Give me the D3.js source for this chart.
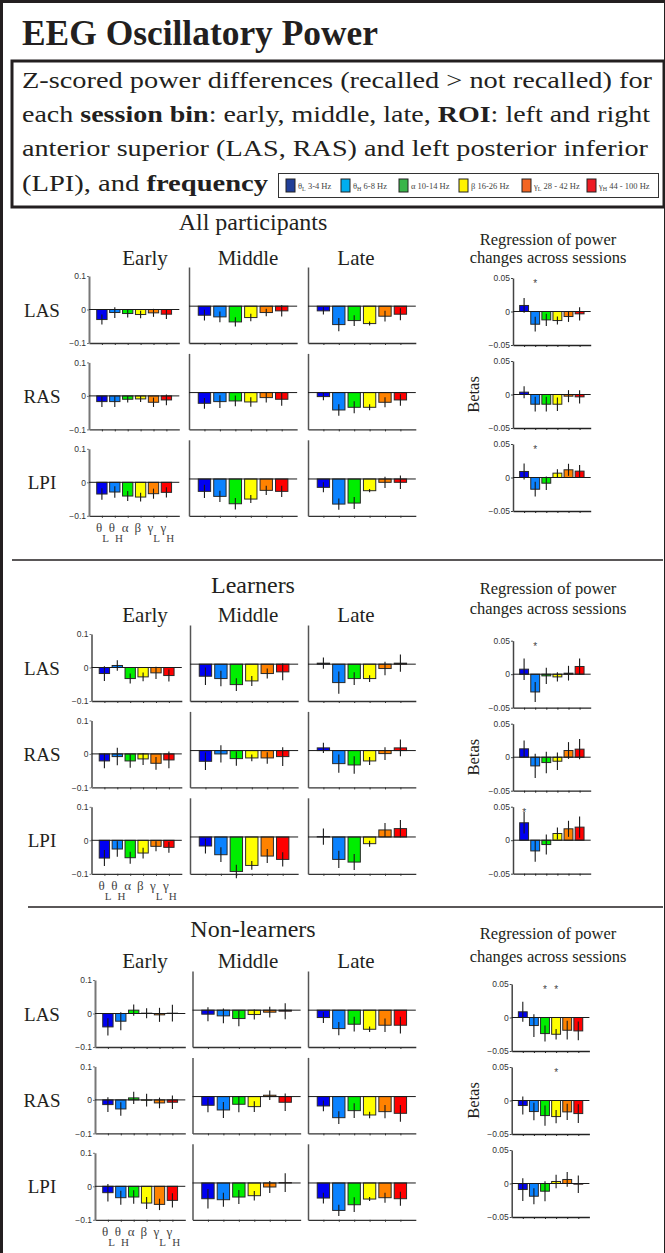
<!DOCTYPE html>
<html>
<head>
<meta charset="utf-8">
<script src="https://cdn.jsdelivr.net/npm/d3@7"></script>
<style>
  body { margin: 0; background: #fff; }
  svg { display: block; }
  text { font-family: "Liberation Serif", "Times New Roman", serif; fill: #231f20; }
  .tick text { font-family: "Liberation Sans", Arial, sans-serif; font-size: 8.5px; fill: #333; }
</style>
</head>
<body>
<script>
// bands / categories
var bands = ["θ", "θ", "α", "β", "γ", "γ"];
var bandSubs = ["L", "H", "", "", "L", "H"];
var barColors = ["#0000f2", "#0a82ff", "#00ee00", "#ffff00", "#ff8200", "#ff0000"];
var legendColors = ["#203f99", "#00aeef", "#39b54a", "#fff200", "#f26522", "#ed1c24"];
var legendRanges = ["3-4 Hz", "6-8 Hz", "10-14 Hz", "16-26 Hz", "28 - 42 Hz", "44 - 100 Hz"];
var rois = ["LAS", "RAS", "LPI"];
var bins = ["Early", "Middle", "Late"];
var groups = ["All participants", "Learners", "Non-learners"];

// All participants: rows = LAS, RAS, LPI ; cols = thetaL..gammaH
var allEarly = [[-0.030, -0.009, -0.012, -0.015, -0.010, -0.014], [-0.017, -0.017, -0.010, -0.009, -0.019, -0.012], [-0.035, -0.029, -0.041, -0.044, -0.034, -0.030]];
var allEarlyErr = [[0.015, 0.016, 0.012, 0.011, 0.012, 0.014], [0.016, 0.016, 0.010, 0.009, 0.014, 0.016], [0.017, 0.017, 0.015, 0.013, 0.015, 0.015]];
var allMiddle = [[-0.027, -0.032, -0.047, -0.034, -0.019, -0.014], [-0.032, -0.027, -0.025, -0.028, -0.015, -0.020], [-0.037, -0.052, -0.074, -0.060, -0.034, -0.037]];
var allMiddleErr = [[0.016, 0.016, 0.014, 0.011, 0.011, 0.017], [0.016, 0.019, 0.016, 0.014, 0.015, 0.019], [0.020, 0.017, 0.017, 0.012, 0.014, 0.017]];
var allLate = [[-0.014, -0.055, -0.043, -0.052, -0.030, -0.024], [-0.012, -0.052, -0.044, -0.044, -0.029, -0.022], [-0.025, -0.075, -0.072, -0.035, -0.010, -0.010]];
var allLateErr = [[0.011, 0.020, 0.016, 0.006, 0.016, 0.018], [0.011, 0.017, 0.018, 0.009, 0.015, 0.017], [0.015, 0.017, 0.018, 0.005, 0.017, 0.020]];
var allBeta = [[0.009, -0.019, -0.0125, -0.0135, -0.0075, -0.0035], [0.0035, -0.0145, -0.0145, -0.0145, -0.0025, -0.0035], [0.009, -0.0175, -0.0085, 0.0065, 0.0115, 0.0095]];
var allBetaErr = [[0.011, 0.011, 0.009, 0.006, 0.008, 0.010], [0.009, 0.011, 0.011, 0.010, 0.009, 0.010], [0.012, 0.011, 0.010, 0.006, 0.009, 0.009]];
var allStars = [[1], [], [1]];

// Learners
var learnEarly = [[-0.018, 0.006, -0.033, -0.028, -0.016, -0.024], [-0.021, -0.008, -0.021, -0.015, -0.028, -0.018], [-0.053, -0.026, -0.052, -0.038, -0.018, -0.021]];
var learnEarlyErr = [[0.022, 0.016, 0.015, 0.013, 0.018, 0.018], [0.022, 0.026, 0.020, 0.018, 0.019, 0.025], [0.024, 0.023, 0.018, 0.016, 0.015, 0.016]];
var learnMiddle = [[-0.036, -0.043, -0.061, -0.050, -0.028, -0.023], [-0.032, -0.010, -0.024, -0.022, -0.022, -0.018], [-0.027, -0.053, -0.103, -0.085, -0.057, -0.067]];
var learnMiddleErr = [[0.026, 0.023, 0.019, 0.015, 0.015, 0.025], [0.026, 0.026, 0.021, 0.010, 0.017, 0.028], [0.022, 0.022, 0.020, 0.013, 0.021, 0.021]];
var learnLate = [[0.003, -0.055, -0.043, -0.043, -0.013, 0.003], [0.008, -0.039, -0.043, -0.031, -0.009, 0.008], [0.001, -0.067, -0.075, -0.020, 0.021, 0.025]];
var learnLateErr = [[0.017, 0.033, 0.019, 0.010, 0.020, 0.026], [0.015, 0.027, 0.026, 0.012, 0.019, 0.025], [0.024, 0.026, 0.024, 0.009, 0.021, 0.026]];
var learnBeta = [[0.0075, -0.0265, -0.0025, -0.004, 0.0015, 0.0115], [0.0125, -0.013, -0.008, -0.006, 0.010, 0.012], [0.026, -0.016, -0.0065, 0.010, 0.017, 0.0195]];
var learnBetaErr = [[0.016, 0.015, 0.012, 0.007, 0.011, 0.012], [0.0125, 0.018, 0.016, 0.013, 0.0125, 0.015], [0.016, 0.016, 0.015, 0.009, 0.012, 0.016]];
var learnStars = [[1], [], [0]];

// Non-learners
var nonEarly = [[-0.040, -0.023, 0.010, 0.001, -0.004, 0.001], [-0.014, -0.027, 0.006, -0.001, -0.009, -0.007], [-0.019, -0.034, -0.032, -0.050, -0.054, -0.042]];
var nonEarlyErr = [[0.026, 0.027, 0.017, 0.015, 0.021, 0.025], [0.022, 0.020, 0.018, 0.019, 0.016, 0.020], [0.026, 0.021, 0.020, 0.018, 0.017, 0.021]];
var nonMiddle = [[-0.012, -0.017, -0.025, -0.013, -0.006, -0.003], [-0.026, -0.040, -0.023, -0.030, 0.004, -0.017], [-0.047, -0.050, -0.042, -0.038, -0.012, 0.001]];
var nonMiddleErr = [[0.021, 0.022, 0.023, 0.015, 0.016, 0.024], [0.021, 0.024, 0.024, 0.016, 0.014, 0.026], [0.029, 0.021, 0.021, 0.014, 0.018, 0.028]];
var nonLate = [[-0.022, -0.055, -0.042, -0.057, -0.045, -0.045], [-0.028, -0.063, -0.042, -0.055, -0.045, -0.050], [-0.045, -0.082, -0.065, -0.048, -0.044, -0.047]];
var nonLateErr = [[0.016, 0.020, 0.022, 0.008, 0.020, 0.025], [0.016, 0.019, 0.022, 0.010, 0.020, 0.025], [0.016, 0.017, 0.022, 0.006, 0.015, 0.021]];
var nonBeta = [[0.0085, -0.012, -0.024, -0.025, -0.019, -0.020], [-0.0075, -0.0165, -0.0225, -0.024, -0.017, -0.0195], [-0.009, -0.019, -0.0115, 0.003, 0.006, -0.001]];
var nonBetaErr = [[0.015, 0.017, 0.012, 0.008, 0.014, 0.014], [0.0135, 0.013, 0.015, 0.010, 0.012, 0.014], [0.017, 0.012, 0.015, 0.010, 0.011, 0.013]];
var nonStars = [[2, 3], [3], []];

var sections = [
  {name: groups[0], bins: [allEarly, allMiddle, allLate], errs: [allEarlyErr, allMiddleErr, allLateErr], beta: allBeta, betaErr: allBetaErr, stars: allStars},
  {name: groups[1], bins: [learnEarly, learnMiddle, learnLate], errs: [learnEarlyErr, learnMiddleErr, learnLateErr], beta: learnBeta, betaErr: learnBetaErr, stars: learnStars},
  {name: groups[2], bins: [nonEarly, nonMiddle, nonLate], errs: [nonEarlyErr, nonMiddleErr, nonLateErr], beta: nonBeta, betaErr: nonBetaErr, stars: nonStars}
];

// layout of each section (pixels)
var layout = [
  {top: 276, regTop: 278, xs: [89, 189, 308], regX: 513, title: 230, reg: [245, 263], hdr: 265},
  {top: 634, regTop: 640.7, xs: [91.5, 190, 308], regX: 513, title: 593, reg: [594, 614], hdr: 622},
  {top: 980, regTop: 984, xs: [95, 192.5, 308], regX: 511.7, title: 937, reg: [939, 962], hdr: 968}
];
var steps = [12.9, 15.45, 15.4];
var binCenters = [145, 248, 356];
var rowStep = 86.4, regRowStep = 83;

var W = 665, H = 1253;
var svg = d3.select("body").append("svg")
    .attr("width", W)
    .attr("height", H);

// frames
svg.append("rect").attr("x", 1.5).attr("y", 1.5).attr("width", 664).attr("height", 1270)
  .style("fill", "none").style("stroke", "#231f20").style("stroke-width", 3);
svg.append("text").attr("x", 22).attr("y", 45)
  .style("font-size", "35px").style("font-weight", "bold")
  .attr("textLength", 356).attr("lengthAdjust", "spacingAndGlyphs")
  .text("EEG Oscillatory Power");
svg.append("rect").attr("x", 12).attr("y", 61).attr("width", 652).attr("height", 146)
  .style("fill", "none").style("stroke", "#231f20").style("stroke-width", 3);

var descLines = [
  [["Z-scored power differences (recalled > not recalled) for", false]],
  [["each ", false], ["session bin", true], [": early, middle, late, ", false], ["ROI", true], [":  left and right", false]],
  [["anterior superior (LAS, RAS) and left posterior inferior", false]],
  [["(LPI), and ", false], ["frequency", true]]
];
var descWidths = [630, 628, 626, 246];
descLines.forEach(function(parts, i){
  var t = svg.append("text").attr("x", 22).attr("y", 88 + i * 34.2)
    .style("font-size", "24px")
    .attr("textLength", descWidths[i]).attr("lengthAdjust", "spacingAndGlyphs");
  parts.forEach(function(p){
    t.append("tspan").text(p[0]).style("font-weight", p[1] ? "bold" : "normal");
  });
});

// legend
svg.append("rect").attr("x", 278.5).attr("y", 173.5).attr("width", 380).attr("height", 24)
  .style("fill", "#fff").style("stroke", "#333").style("stroke-width", 1);
var legX = [286, 341, 399, 459, 522, 587];
legX.forEach(function(lx, i){
  svg.append("rect").attr("x", lx).attr("y", 179).attr("width", 9).attr("height", 13)
    .style("fill", legendColors[i]).style("stroke", "#222").style("stroke-width", 1);
  var t = svg.append("text").attr("x", lx + 12).attr("y", 188.5)
    .style("font-size", "8.5px").style("fill", "#444");
  t.append("tspan").text(bands[i]);
  if (bandSubs[i]) t.append("tspan").attr("dy", 2.5).style("font-size", "6px").text(bandSubs[i]);
  t.append("tspan").attr("dy", bandSubs[i] ? -2.5 : 0).text(" " + legendRanges[i]);
});

// separators
svg.append("line").attr("x1", 12).attr("x2", 663).attr("y1", 560).attr("y2", 560)
  .style("stroke", "#231f20").style("stroke-width", 1.5);
svg.append("line").attr("x1", 28).attr("x2", 663).attr("y1", 907).attr("y2", 907)
  .style("stroke", "#231f20").style("stroke-width", 1.5);

function drawBars(g, x, y, values, errs, step){
  var bw = step * 0.8;
  g.selectAll("rect.bar").data(values).enter().append("rect")
    .attr("class", "bar")
    .attr("x", function(d, i){ return x(i + 1) - bw / 2; })
    .attr("y", function(d){ return y(Math.max(0, d)); })
    .attr("width", bw)
    .attr("height", function(d){ return Math.abs(y(d) - y(0)); })
    .style("fill", function(d, i){ return barColors[i]; })
    .style("stroke", "#2a2a2a").style("stroke-width", 1);
  g.append("line")
    .attr("x1", x.range()[0]).attr("x2", x.range()[1])
    .attr("y1", y(0)).attr("y2", y(0))
    .style("stroke", "#1a1a1a").style("stroke-width", 1);
  g.selectAll("line.err").data(values).enter().append("line")
    .attr("class", "err")
    .attr("x1", function(d, i){ return x(i + 1); })
    .attr("x2", function(d, i){ return x(i + 1); })
    .attr("y1", function(d, i){ return y(d - errs[i]); })
    .attr("y2", function(d, i){ return y(d + errs[i]); })
    .style("stroke", "#1a1a1a").style("stroke-width", 1.1);
}

function styleAxis(a, color, width){
  a.select(".domain").style("stroke", color).style("stroke-width", width);
  a.selectAll(".tick line").style("stroke", color);
}

sections.forEach(function(sec, s){
  var L = layout[s];
  var sg = svg.append("g");

  sg.append("text").attr("x", 253).attr("y", L.title).attr("text-anchor", "middle")
    .style("font-size", "24px").text(sec.name);
  sg.append("text").attr("x", 548).attr("y", L.reg[0]).attr("text-anchor", "middle")
    .style("font-size", "16.5px").text("Regression of power");
  sg.append("text").attr("x", 548).attr("y", L.reg[1]).attr("text-anchor", "middle")
    .style("font-size", "16.5px").text("changes across sessions");
  bins.forEach(function(b, j){
    sg.append("text").attr("x", binCenters[j]).attr("y", L.hdr).attr("text-anchor", "middle")
      .style("font-size", "21px").text(b);
  });

  rois.forEach(function(roi, r){
    var top = L.top + r * rowStep;
    sg.append("text").attr("x", 42).attr("y", top + 33.5 + 7).attr("text-anchor", "middle")
      .style("font-size", "19px").text(roi);

    bins.forEach(function(b, j){
      var x0 = L.xs[j], step = steps[j];
      var x = d3.scaleLinear().domain([0, 7]).range([x0, x0 + 7 * step]);
      var y = j === 0
        ? d3.scaleLinear().domain([-0.1, 0.1]).range([top + 67, top])
        : d3.scaleLinear().domain([-0.11, 0.117]).range([top + 67, top - 9]);
      var g = sg.append("g");

      var xa = g.append("g").attr("transform", "translate(0," + (top + 67) + ")")
        .call(d3.axisBottom(x).tickValues([1, 2, 3, 4, 5, 6]).tickSize(2).tickSizeOuter(0).tickFormat(""));
      styleAxis(xa, "#333", 1.3);

      var ya = g.append("g").attr("transform", "translate(" + x0 + ",0)");
      if (j === 0) {
        ya.call(d3.axisLeft(y).tickValues([-0.1, 0, 0.1]).tickSize(2).tickSizeOuter(0).tickPadding(1)
          .tickFormat(function(d){ return d === 0 ? "0" : d3.format(".1f")(d); }));
        styleAxis(ya, "#777", 2);
      } else {
        ya.call(d3.axisLeft(y).tickValues([]).tickSizeOuter(0));
        styleAxis(ya, "#555", 1.5);
      }

      drawBars(g, x, y, sec.bins[j][r], sec.errs[j][r], step);

      if (j === 0 && r === 2) {
        bands.forEach(function(bn, i){
          var t = g.append("text").attr("x", x(i + 1) - 6).attr("y", top + 67 + 16)
            .style("font-size", "13px").style("fill", "#444");
          t.append("tspan").text(bn);
          if (bandSubs[i]) t.append("tspan").attr("dy", 10).style("font-size", "11px").text(bandSubs[i]);
        });
      }
    });

    // regression panel
    var rtop = L.regTop + r * regRowStep;
    var rx = d3.scaleLinear().domain([0, 7]).range([L.regX, L.regX + 7 * 11.1]);
    var ry = d3.scaleLinear().domain([-0.05, 0.05]).range([rtop + 67, rtop]);
    var rg = sg.append("g");
    var rxa = rg.append("g").attr("transform", "translate(0," + (rtop + 67) + ")")
      .call(d3.axisBottom(rx).tickValues([1, 2, 3, 4, 5, 6]).tickSize(2).tickSizeOuter(0).tickFormat(""));
    styleAxis(rxa, "#222", 1.3);
    var rya = rg.append("g").attr("transform", "translate(" + L.regX + ",0)")
      .call(d3.axisLeft(ry).tickValues([-0.05, 0, 0.05]).tickSize(2).tickSizeOuter(0).tickPadding(1)
        .tickFormat(function(d){ return d === 0 ? "0" : d3.format(".2f")(d); }));
    styleAxis(rya, "#444", 1.5);
    drawBars(rg, rx, ry, sec.beta[r], sec.betaErr[r], 11.1);
    sec.stars[r].forEach(function(k){
      rg.append("text").attr("x", rx(k + 1)).attr("y", ry(0.05) + 9).attr("text-anchor", "middle")
        .style("font-family", "Liberation Sans, Arial, sans-serif").style("font-size", "10px")
        .style("fill", "#444").text("*");
    });
  });

  var by = L.regTop + regRowStep + 33.5;
  sg.append("text").attr("transform", "translate(479," + by + ") rotate(-90)")
    .attr("text-anchor", "middle").style("font-size", "16.5px").text("Betas");
});
</script>
</body>
</html>
